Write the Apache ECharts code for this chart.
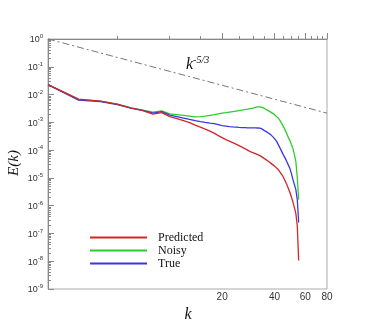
<!DOCTYPE html>
<html>
<head>
<meta charset="utf-8">
<script src="https://cdn.jsdelivr.net/npm/echarts@6/dist/echarts.min.js"></script>
<style>
html, body { margin: 0; padding: 0; background: #fff; }
#main { width: 366px; height: 325px; }
</style>
</head>
<body>
<div id="main"></div>
<script>
// wavenumbers
var k = [2, 3, 4, 5, 6, 7, 8, 9, 10, 11, 12, 13, 14, 15, 16, 17, 18, 19, 20, 21,
    22, 23, 24, 25, 26, 27, 28, 29, 30, 31, 32, 33, 34, 35, 36, 37, 38, 39, 40, 41,
    42, 43, 44, 45, 46, 47, 48, 49, 50, 51, 52, 53, 54, 55];

var predicted = [2.27e-2, 6.84e-3, 5.79e-3, 4.52e-3, 3.24e-3, 2.64e-3, 1.97e-3, 2.23e-3, 1.60e-3, 1.36e-3,
    1.15e-3, 9.75e-4, 7.93e-4, 6.72e-4, 5.69e-4, 4.82e-4, 4.09e-4, 3.33e-4, 2.82e-4, 2.39e-4,
    2.11e-4, 1.86e-4, 1.64e-4, 1.45e-4, 1.28e-4, 1.13e-4, 1.00e-4, 8.83e-5, 8.13e-5, 7.48e-5,
    6.89e-5, 6.34e-5, 5.60e-5, 4.94e-5, 4.37e-5, 3.86e-5, 3.40e-5, 3.01e-5, 2.65e-5, 2.35e-5,
    1.99e-5, 1.69e-5, 1.32e-5, 1.03e-5, 7.67e-6, 5.74e-6, 4.12e-6, 2.96e-6, 2.04e-6, 1.35e-6,
    8.55e-7, 5.20e-7, 1.92e-7, 1.06e-8];

var noisy = [2.27e-2, 6.56e-3, 5.79e-3, 4.52e-3, 3.30e-3, 2.75e-3, 2.33e-3, 2.57e-3, 2.00e-3, 1.89e-3,
    1.77e-3, 1.67e-3, 1.58e-3, 1.60e-3, 1.67e-3, 1.77e-3, 1.89e-3, 2.02e-3, 2.14e-3, 2.23e-3,
    2.33e-3, 2.43e-3, 2.53e-3, 2.64e-3, 2.75e-3, 2.86e-3, 2.98e-3, 3.11e-3, 3.24e-3, 3.44e-3,
    3.58e-3, 3.61e-3, 3.44e-3, 3.16e-3, 2.86e-3, 2.59e-3, 2.33e-3, 2.09e-3, 1.89e-3, 1.67e-3,
    1.42e-3, 1.15e-3, 8.97e-4, 7.00e-4, 5.24e-4, 3.93e-4, 2.82e-4, 2.20e-4, 1.58e-4, 1.13e-4,
    6.89e-5, 3.86e-5, 1.03e-5, 1.66e-6];

var truth = [2.27e-2, 6.29e-3, 5.56e-3, 4.34e-3, 3.24e-3, 2.68e-3, 2.14e-3, 2.43e-3, 1.82e-3, 1.60e-3,
    1.42e-3, 1.27e-3, 1.15e-3, 1.06e-3, 9.91e-4, 9.35e-4, 8.97e-4, 8.26e-4, 7.60e-4, 7.30e-4,
    7.00e-4, 6.84e-4, 6.72e-4, 6.56e-4, 6.44e-4, 6.40e-4, 6.34e-4, 6.29e-4, 6.29e-4, 6.29e-4,
    6.24e-4, 6.14e-4, 5.69e-4, 5.02e-4, 4.52e-4, 4.06e-4, 3.61e-4, 3.06e-4, 2.59e-4, 2.11e-4,
    1.58e-4, 1.18e-4, 8.83e-5, 6.61e-5, 5.15e-5, 3.86e-5, 2.88e-5, 2.16e-5, 1.43e-5, 8.69e-6,
    5.74e-6, 3.79e-6, 1.66e-6, 2.47e-7];

// k^-5/3 reference line end points
var refK = [2, 80];
var refE = [1, 2.14e-3];

// axis ticks
var xMajor = [20, 40, 60, 80];
var xMinor = [5, 10, 15, 25, 30, 35, 45, 50, 55, 65, 70, 75];
var yDecades = [-9, -8, -7, -6, -5, -4, -3, -2, -1, 0];

var lg = Math.log10;
var yMinor = [];
yDecades.slice(0, -1).forEach(function (n) {
    for (var m = 2; m <= 9; m++) yMinor.push(n + lg(m));
});

function pairs(ys) {
    return k.map(function (kk, i) { return [kk, ys[i]]; });
}

var rect = { left: 48, top: 39, width: 279, height: 250 };
var axisGray = '#888';
var sans = '"Liberation Sans", Arial, sans-serif';
var serif = '"Liberation Serif", "Times New Roman", serif';

var myChart = echarts.init(document.getElementById('main'));

var option = {
    animation: false,
    backgroundColor: '#fff',
    grid: [
        Object.assign({ show: true, borderColor: '#aaa', borderWidth: 1 }, rect),
        Object.assign({}, rect),
        Object.assign({}, rect)
    ],
    legend: {
        orient: 'vertical',
        left: 85,
        top: 226,
        itemWidth: 57,
        itemHeight: 2,
        itemGap: 0,
        icon: 'rect',
        data: ['Predicted', 'Noisy', 'True'],
        textStyle: { fontFamily: serif, fontSize: 12, color: '#111', lineHeight: 13, padding: [0, 0, 0, 6] }
    },
    xAxis: [
        { type: 'log', gridIndex: 0, min: 2, max: 80, show: false },
        {
            type: 'value', gridIndex: 1, min: lg(2), max: lg(80),
            axisLine: { show: true, lineStyle: { color: axisGray } },
            axisTick: { show: true, inside: true, length: 6, customValues: xMajor.map(lg), lineStyle: { color: axisGray } },
            axisLabel: {
                customValues: xMajor.map(lg), margin: 3, fontSize: 10, fontFamily: sans, color: '#333',
                formatter: function (v) { return String(Math.round(Math.pow(10, v))); }
            },
            splitLine: { show: false }
        },
        {
            type: 'value', gridIndex: 2, min: lg(2), max: lg(80),
            axisLine: { show: false },
            axisTick: { show: true, inside: true, length: 3, customValues: xMinor.map(lg), lineStyle: { color: axisGray } },
            axisLabel: { show: false },
            splitLine: { show: false }
        }
    ],
    yAxis: [
        { type: 'log', gridIndex: 0, min: 1e-9, max: 1, show: false },
        {
            type: 'value', gridIndex: 1, min: -9, max: 0,
            axisLine: { show: true, lineStyle: { color: axisGray } },
            axisTick: { show: true, inside: true, length: 6, customValues: yDecades, lineStyle: { color: axisGray } },
            axisLabel: {
                customValues: yDecades, margin: 5,
                formatter: function (v) { return '{b|10}{s|' + v + '}'; },
                rich: {
                    b: { fontSize: 9, fontFamily: sans, color: '#333', lineHeight: 11, verticalAlign: 'bottom' },
                    s: { fontSize: 6, fontFamily: sans, color: '#333', lineHeight: 6, verticalAlign: 'top' }
                }
            },
            splitLine: { show: false }
        },
        {
            type: 'value', gridIndex: 2, min: -9, max: 0,
            axisLine: { show: false },
            axisTick: { show: true, inside: true, length: 3, customValues: yMinor, lineStyle: { color: axisGray } },
            axisLabel: { show: false },
            splitLine: { show: false }
        }
    ],
    graphic: [
        {
            type: 'text', x: 14, y: 163, rotation: Math.PI / 2,
            style: { text: 'E(k)', font: 'italic 15px ' + serif, fill: '#111', align: 'center', verticalAlign: 'middle' }
        },
        {
            type: 'text', x: 188, y: 315,
            style: { text: 'k', font: 'italic 16px ' + serif, fill: '#111', align: 'center', verticalAlign: 'middle' }
        },
        {
            type: 'text', x: 186, y: 55,
            style: {
                text: '{k|k}{s|-5/3}',
                rich: {
                    k: { font: 'italic 16px ' + serif, fill: '#111', lineHeight: 18, verticalAlign: 'bottom' },
                    s: { font: 'italic 10px ' + serif, fill: '#111', lineHeight: 10, verticalAlign: 'top' }
                }
            }
        }
    ],
    series: [
        {
            name: 'k53', type: 'line', xAxisIndex: 0, yAxisIndex: 0, showSymbol: false, silent: true,
            data: refK.map(function (kk, i) { return [kk, refE[i]]; }),
            lineStyle: { color: '#777', width: 1, type: [7, 3, 2, 3] }
        },
        {
            name: 'Noisy', type: 'line', xAxisIndex: 0, yAxisIndex: 0, showSymbol: false,
            data: pairs(noisy), itemStyle: { color: '#2ecc2e' }, lineStyle: { width: 1.3 }
        },
        {
            name: 'True', type: 'line', xAxisIndex: 0, yAxisIndex: 0, showSymbol: false,
            data: pairs(truth), itemStyle: { color: '#3838e0' }, lineStyle: { width: 1.3 }
        },
        {
            name: 'Predicted', type: 'line', xAxisIndex: 0, yAxisIndex: 0, showSymbol: false,
            data: pairs(predicted), itemStyle: { color: '#d02828' }, lineStyle: { width: 1.3 }
        }
    ]
};

myChart.setOption(option);
</script>
</body>
</html>
